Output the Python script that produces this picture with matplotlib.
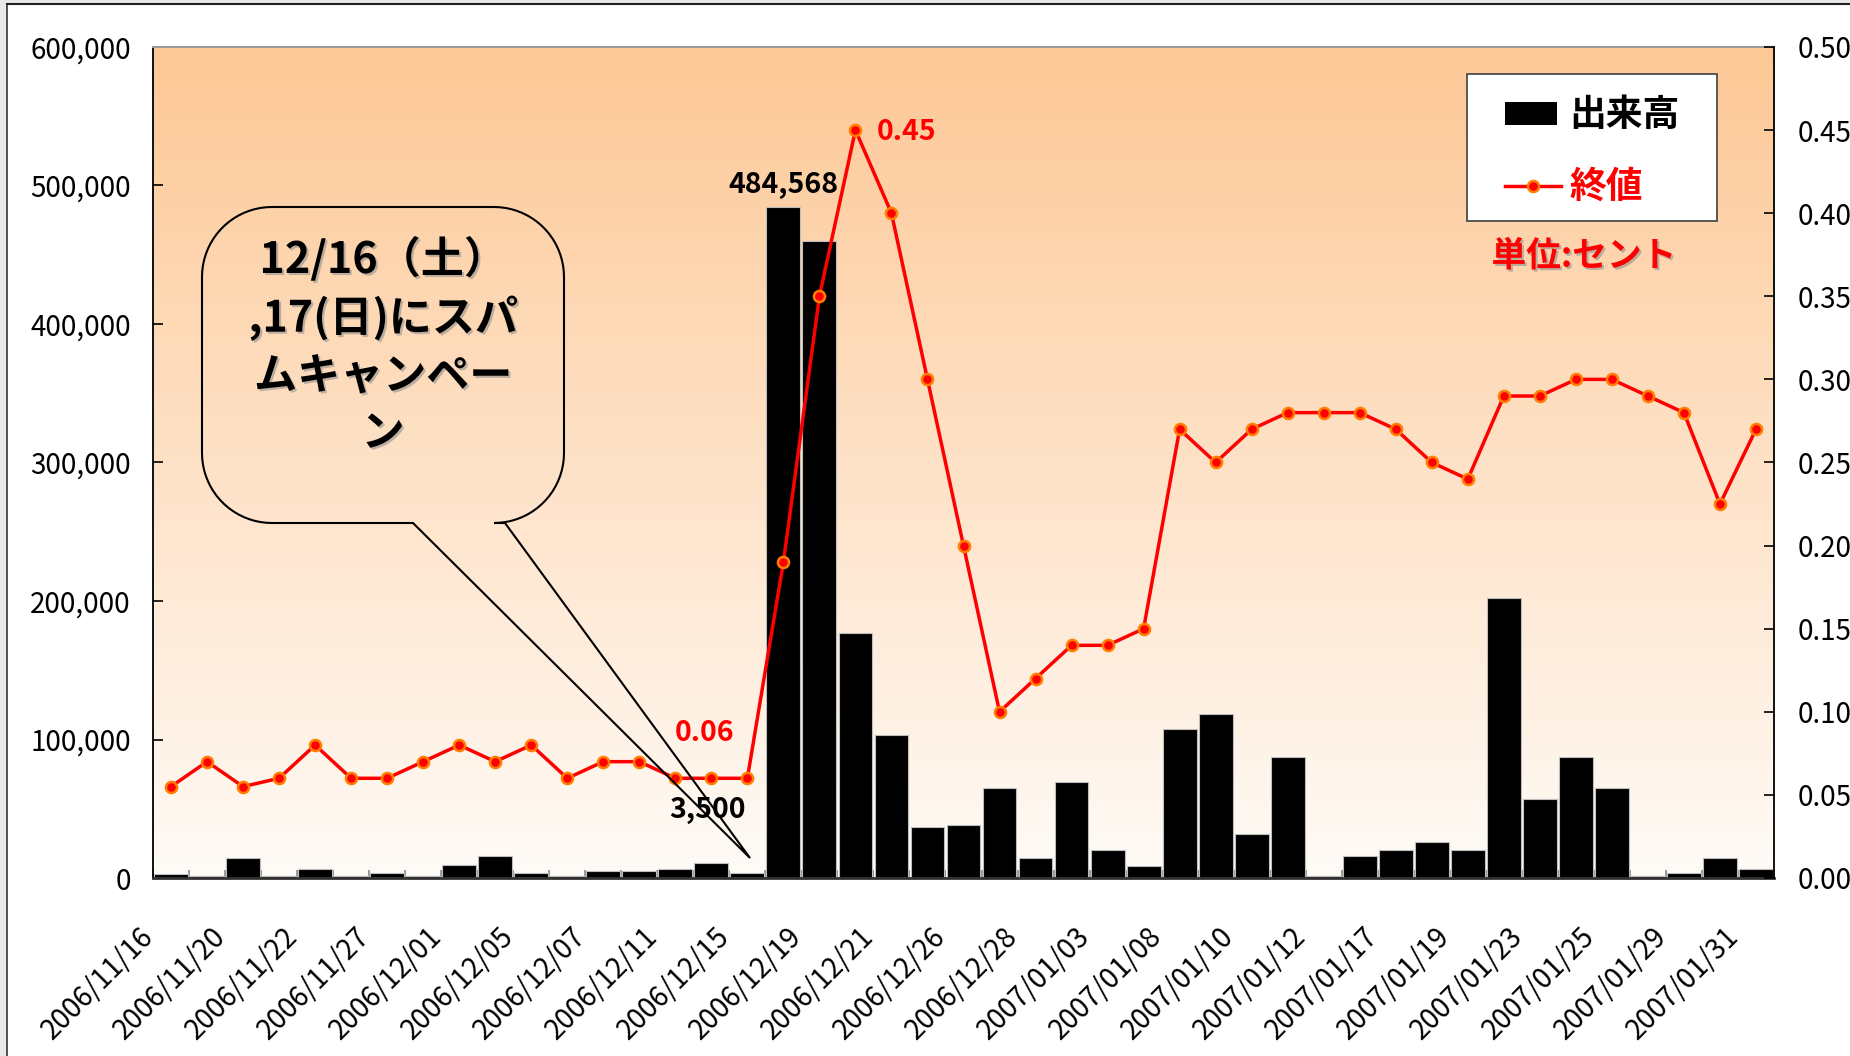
import numpy as np
import matplotlib
matplotlib.use('Agg')
import matplotlib.pyplot as plt
import matplotlib.patheffects as pe
import matplotlib.transforms as mtransforms
from matplotlib.patches import Polygon, Rectangle
from matplotlib.lines import Line2D
from matplotlib.ticker import FuncFormatter, MultipleLocator

plt.rcParams['font.family'] = ['Noto Sans CJK JP', 'DejaVu Sans']

# trading days, only every other one is labelled on the axis
dates = ['2006/11/16', '2006/11/17', '2006/11/20', '2006/11/21', '2006/11/22',
         '2006/11/24', '2006/11/27', '2006/11/29', '2006/12/01', '2006/12/04',
         '2006/12/05', '2006/12/06', '2006/12/07', '2006/12/08', '2006/12/11',
         '2006/12/13', '2006/12/15', '2006/12/18', '2006/12/19', '2006/12/20',
         '2006/12/21', '2006/12/22', '2006/12/26', '2006/12/27', '2006/12/28',
         '2006/12/29', '2007/01/03', '2007/01/05', '2007/01/08', '2007/01/09',
         '2007/01/10', '2007/01/11', '2007/01/12', '2007/01/16', '2007/01/17',
         '2007/01/18', '2007/01/19', '2007/01/22', '2007/01/23', '2007/01/24',
         '2007/01/25', '2007/01/26', '2007/01/29', '2007/01/30', '2007/01/31']

# 出来高 (shares)
volume = [3000, 1500, 14600, 1700, 6200, 1400, 3300, 1400, 9100, 16000,
          3300, 1700, 5000, 5000, 6500, 10800, 3500, 484568, 460000, 177000,
          103000, 37000, 38500, 65300, 14600, 69400, 20300, 8900, 107400, 118700,
          31600, 87600, 1700, 16000, 20300, 25800, 20300, 202000, 56900, 87600,
          65300, 1700, 3600, 14600, 6200]

# 終値 (cents)
close = [0.055, 0.07, 0.055, 0.06, 0.08, 0.06, 0.06, 0.07, 0.08, 0.07,
         0.08, 0.06, 0.07, 0.07, 0.06, 0.06, 0.06, 0.19, 0.35, 0.45,
         0.40, 0.30, 0.20, 0.10, 0.12, 0.14, 0.14, 0.15, 0.27, 0.25,
         0.27, 0.28, 0.28, 0.28, 0.27, 0.25, 0.24, 0.29, 0.29, 0.30,
         0.30, 0.29, 0.28, 0.225, 0.27]

W, H = 1850, 1056
L, R, T, B = 153, 1774, 47, 878
rect = [L / W, 1 - B / H, (R - L) / W, (B - T) / H]

def px2fig(X, Y):
    return (X / W, 1 - Y / H)

def px2ax(X, Y):
    return ((X - L) / (R - L), (B - Y) / (B - T))

fig = plt.figure(figsize=(W / 100, H / 100), dpi=100)

# outer frame of the screenshot
fig.add_artist(Rectangle((0, 0), 7 / W, 1, transform=fig.transFigure,
                         facecolor='#e8e8e8', edgecolor='none'))
fig.add_artist(Rectangle((0, 1 - 4 / H), 1, 4 / H, transform=fig.transFigure,
                         facecolor='#e8e8e8', edgecolor='none'))
fig.add_artist(Line2D([7 / W, 7 / W], [0, 1 - 4 / H], transform=fig.transFigure,
                      color='#333333', lw=1.2))
fig.add_artist(Line2D([7 / W, 1], [1 - 4 / H, 1 - 4 / H], transform=fig.transFigure,
                      color='#222222', lw=1.5))

# gradient plot background
bg = fig.add_axes(rect, zorder=0)
bg.axis('off')
top_c = np.array([253, 200, 150]) / 255.0
bot_c = np.array([255, 251, 247]) / 255.0
g = np.linspace(0, 1, 256)[:, None, None]
img = top_c + (bot_c - top_c) * g
bg.imshow(img, aspect='auto', extent=[0, 1, 0, 1], origin='upper')

ax = fig.add_axes(rect, zorder=1)
ax.set_facecolor('none')
ax2 = ax.twinx()
ax2.set_zorder(2)
ax2.patch.set_visible(False)

x = np.arange(len(volume))
ax.bar(x, volume, width=0.94, color='black', edgecolor='#bdbdbd', linewidth=0.8, zorder=2)
ax.set_xlim(-0.5, len(volume) - 0.5)
ax.set_ylim(0, 600000)
ax.yaxis.set_major_locator(MultipleLocator(100000))
ax.yaxis.set_major_formatter(FuncFormatter(lambda v, p: f'{v:,.0f}'))
ax.tick_params(axis='y', direction='in', length=7, width=1.2, pad=16, labelsize=20)

ax.set_xticks(x[::2])
ax.set_xticklabels(dates[::2], rotation=45, ha='right', va='center',
                   rotation_mode='anchor', fontsize=20)
ax.tick_params(axis='x', which='major', length=0, pad=39)
ax.set_xticks(np.arange(-0.5, len(volume), 1), minor=True)
ax.tick_params(axis='x', which='minor', direction='in', length=6, width=1.2, color='#888888')
shift = mtransforms.ScaledTranslation(-22 / 100, 0, fig.dpi_scale_trans)
for lab in ax.get_xticklabels():
    lab.set_transform(lab.get_transform() + shift)

line_kw = dict(color='red', lw=2.5, marker='o', ms=8, mfc='red', mec='#FF7F00', mew=1.8)
ax2.plot(x, close, zorder=3, **line_kw)
ax2.set_ylim(0, 0.5)
ax2.yaxis.set_major_locator(MultipleLocator(0.05))
ax2.yaxis.set_major_formatter(FuncFormatter(lambda v, p: f'{v:.2f}'))
ax2.tick_params(axis='y', direction='in', length=7, width=1.2, pad=17, labelsize=20)

ax.spines['right'].set_visible(False)
ax.spines['top'].set_color('#9a9a9a')
ax.spines['top'].set_linewidth(1.5)
ax.spines['left'].set_linewidth(1.3)
ax.spines['bottom'].set_color('#333333')
ax.spines['bottom'].set_linewidth(2.0)
for s in ['top', 'bottom', 'left']:
    ax2.spines[s].set_visible(False)
ax2.spines['right'].set_linewidth(1.3)

# value labels
lab_kw = dict(textcoords='offset pixels', ha='center', va='center', fontsize=20.5, fontweight='bold')
ax.annotate(f'{volume[17]:,}', xy=(17, volume[17]), xytext=(0, 22), **lab_kw)
ax.annotate(f'{volume[16]:,}', xy=(16, volume[16]), xytext=(-40, 63), **lab_kw)
ax2.annotate(f'{close[15]:.2f}', xy=(15, close[15]), xytext=(-7, 45), color='red', **lab_kw)
lab_kw['ha'] = 'left'
ax2.annotate(f'{close[19]:.2f}', xy=(19, close[19]), xytext=(21, -2), color='red', **lab_kw)

# callout balloon
x0, x1, y0, y1, r = 202, 564, 207, 523, 70

def arc(cx, cy, t0, t1):
    t = np.radians(np.linspace(t0, t1, 20))
    return list(zip(cx + r * np.cos(t), cy + r * np.sin(t)))

pts = [(413, 523), (x0 + r, y1)]
pts += arc(x0 + r, y1 - r, 90, 180)
pts += arc(x0 + r, y0 + r, 180, 270)
pts += arc(x1 - r, y0 + r, 270, 360)
pts += arc(x1 - r, y1 - r, 0, 90)
pts += [(505, 523), (750, 858)]
ax2.add_patch(Polygon([px2ax(*p) for p in pts], closed=True, fill=False,
                      edgecolor='black', lw=1.5, transform=ax2.transAxes, zorder=5))
shadow = [pe.withSimplePatchShadow(offset=(1.5, -1.5), shadow_rgbFace='#909090', alpha=0.6)]
cx, cy = px2ax(383, 346)
ax2.text(cx, cy, '12/16（土）\n,17(日)にスパ\nムキャンペー\nン', transform=ax2.transAxes,
         ha='center', va='center', multialignment='center', fontsize=31,
         fontweight='bold', linespacing=1.37, zorder=6, path_effects=shadow)

ux, uy = px2ax(1584, 256)
ax2.text(ux, uy, '単位:セント', transform=ax2.transAxes, ha='center', va='center',
         fontsize=25, fontweight='bold', color='red', zorder=6, path_effects=shadow)

# legend box
lx0, ly0 = px2fig(1467, 221)
lx1, ly1 = px2fig(1717, 74)
fig.add_artist(Rectangle((lx0, ly0), lx1 - lx0, ly1 - ly0, transform=fig.transFigure,
                         facecolor='white', edgecolor='#404040', lw=1.2, zorder=10))
kx0, ky0 = px2fig(1505, 125)
kx1, ky1 = px2fig(1557, 102)
fig.add_artist(Rectangle((kx0, ky0), kx1 - kx0, ky1 - ky0, transform=fig.transFigure,
                         facecolor='black', edgecolor='none', zorder=11))
mx0, my = px2fig(1505, 186)
mx1, _ = px2fig(1561, 186)
mline = dict(line_kw)
mline['marker'] = None
fig.add_artist(Line2D([mx0, mx1], [my, my], transform=fig.transFigure, zorder=11, **mline))
fig.add_artist(Line2D([(mx0 + mx1) / 2], [my], transform=fig.transFigure, zorder=12,
                      linestyle='none', marker='o', ms=8, mfc='red', mec='#FF7F00', mew=1.8))
tx, ty = px2fig(1569, 115)
fig.text(tx, ty, '出来高', ha='left', va='center', fontsize=26.5, fontweight='bold', zorder=12)
tx, ty = px2fig(1569, 187)
fig.text(tx, ty, '終値', ha='left', va='center', fontsize=26.5, fontweight='bold',
         color='red', zorder=12)

fig.savefig('out.png', dpi=100)
